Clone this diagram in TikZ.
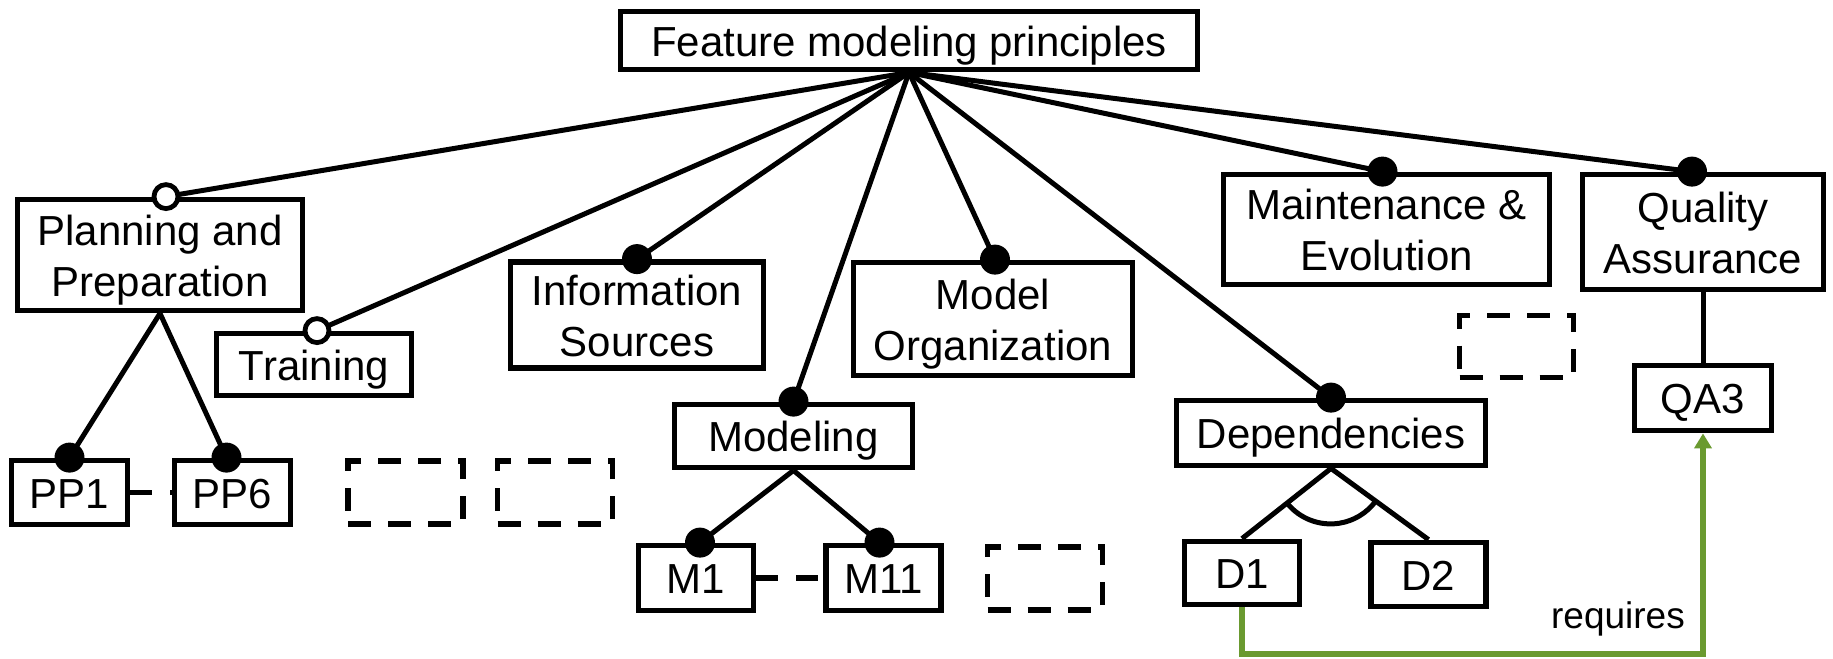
\documentclass[tikz,border=0pt]{standalone}
\usepackage{fontspec}
\setmainfont{Liberation Sans}
\usetikzlibrary{calc,arrows.meta}
\definecolor{reqgreen}{RGB}{106,154,48}
% two-line feature label, reference point on the first baseline
\newcommand{\twolines}[2]{\begin{tabular}[t]{@{}c@{}}#1\\#2\end{tabular}}
\begin{document}
\begin{tikzpicture}[x=0.5pt,y=-0.5pt,
  feat/.style={draw, line width=2.9pt, inner sep=0pt,
               font=\fontsize{21}{25.5}\selectfont,
               text height=21.5pt, text depth=6pt},
  feat2/.style={feat, text depth=31.5pt},
  ghost/.style={draw, line width=2.9pt, dash pattern=on 11.5pt off 8.5pt,
                inner sep=0pt, minimum width=57.5pt, minimum height=31.5pt},
  edge/.style={line width=2.5pt},
  mand/.style={circle, fill=black, inner sep=0pt, minimum size=15pt},
  opt/.style={circle, draw, fill=white, line width=2.4pt, inner sep=0pt, minimum size=12pt},
  elide/.style={line width=2.9pt, dash pattern=on 11pt off 9pt},
  req/.style={draw=reqgreen, line width=2.6pt, -{Triangle[width=8.5pt,length=7.5pt]}},
]
\useasboundingbox (0,0) rectangle (1833,659);

% root feature
\node[feat, minimum width=288.5pt, minimum height=29pt] (root) at (909,40.5) {Feature modeling principles};

% first-level features
\node[feat2, minimum width=142.5pt, minimum height=55.5pt] (plan) at (160,255) {\twolines{Planning and}{Preparation}};
\node[feat, minimum width=97.5pt, minimum height=31pt] (train) at (314,364.5) {Training};
\node[feat2, minimum width=126.5pt, minimum height=52.5pt] (info) at (637,315) {\twolines{Information}{Sources}};
\node[feat, minimum width=119pt, minimum height=31.5pt] (modeling) at (793.5,436) {Modeling};
\node[feat2, minimum width=139.5pt, minimum height=56.5pt] (morg) at (993,319) {\twolines{Model}{Organization}};
\node[feat, minimum width=154.5pt, minimum height=32.5pt] (dep) at (1331,433) {Dependencies};
\node[feat2, minimum width=163pt, minimum height=55pt] (maint) at (1386.5,229.5) {\twolines{Maintenance \&}{Evolution}};
\node[feat2, minimum width=120.5pt, minimum height=57.5pt] (qa) at (1703,232) {\twolines{Quality}{Assurance}};

% second-level features
\node[feat, minimum width=58pt, minimum height=32pt] (pp1) at (69.5,492.5) {PP1};
\node[feat, minimum width=58pt, minimum height=32pt] (pp6) at (232.5,492.5) {PP6};
\node[feat, minimum width=57.5pt, minimum height=32.5pt] (m1) at (696,578) {M1};
\node[feat, minimum width=57.5pt, minimum height=32.5pt] (m11) at (883.5,578) {M11};
\node[feat, minimum width=57.5pt, minimum height=31.5pt] (d1) at (1242,573) {D1};
\node[feat, minimum width=57.5pt, minimum height=32pt] (d2) at (1428.5,574.5) {D2};
\node[feat, minimum width=68.5pt, minimum height=32.5pt] (qa3) at (1703,398) {QA3};

% placeholder features
\node[ghost] (gpp1) at (405.5,492.5) {};
\node[ghost] (gpp2) at (555,492.5) {};
\node[ghost] (gm) at (1045,578.5) {};
\node[ghost, minimum width=57pt, minimum height=31pt] (gqa) at (1516.5,346.5) {};

% attachment points of the decorated edges
\coordinate (cplan) at ($(plan.north)+(6,0)$);
\coordinate (ctrain) at ($(train.north)+(3,0)$);
\coordinate (cinfo) at (info.north);
\coordinate (cmodeling) at (modeling.north);
\coordinate (cmorg) at ($(morg.north)+(2,0)$);
\coordinate (cdep) at (dep.north);
\coordinate (cmaint) at ($(maint.north)+(-4,0)$);
\coordinate (cqa) at ($(qa.north)+(-11,0)$);
\coordinate (cpp1) at (pp1.north);
\coordinate (cpp6) at ($(pp6.north)+(-6,0)$);
\coordinate (cm1) at ($(m1.north)+(4,0)$);
\coordinate (cm11) at ($(m11.north)+(-4,0)$);

% edges
\foreach \c in {cplan,ctrain,cinfo,cmodeling,cmorg,cdep,cmaint,cqa}
  \draw[edge] (root.south) -- (\c);
\draw[edge] (plan.south) -- (cpp1);
\draw[edge] (plan.south) -- (cpp6);
\draw[edge] (modeling.south) -- (cm1);
\draw[edge] (modeling.south) -- (cm11);
\draw[edge] (qa.south) -- (qa3.north);
\draw[edge] (dep.south) -- (d1.north);
\draw[edge] (dep.south) -- (d2.north);
% alternative-group arc
\draw[edge] ($(dep.south)!28pt!(d1.north)$) arc[start angle=141.1, end angle=37.2, radius=56];

% elided siblings
\draw[elide] (pp1.east) -- (pp6.west);
\draw[elide] (m1.east) -- (m11.west);

% optional / mandatory markers
\node[opt] (oplan) at (cplan) {};
\node[opt] (otrain) at (ctrain) {};
\node[mand] (minfo) at (cinfo) {};
\node[mand] (mmodeling) at (cmodeling) {};
\node[mand] (mmorg) at (cmorg) {};
\node[mand] (mdep) at (cdep) {};
\node[mand] (mmaint) at (cmaint) {};
\node[mand] (mqa) at (cqa) {};
\node[mand] (mpp1) at (cpp1) {};
\node[mand] (mpp6) at (cpp6) {};
\node[mand] (mm1) at (cm1) {};
\node[mand] (mm11) at (cm11) {};

% cross-tree constraint
\coordinate (bend) at (1242,654);
\draw[req] (d1.south) -- (d1.south |- bend) -| (qa3.south);
\node[font=\fontsize{18.5}{22}\selectfont, anchor=base] (reqlabel) at (1618,628) {requires};
\end{tikzpicture}
\end{document}
